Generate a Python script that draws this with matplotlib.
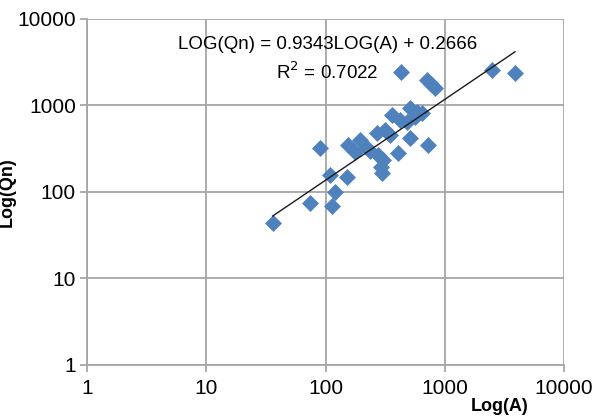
import numpy as np
import matplotlib
matplotlib.use('Agg')
from matplotlib import pyplot as plt
from matplotlib.ticker import FixedLocator, FixedFormatter, NullLocator

# data (A, Qn)
area = [36, 74, 90, 114, 109, 120, 151, 153, 177, 195, 220, 236, 269, 315, 347,
        277, 305, 296, 291, 408, 512, 728, 359, 421, 512, 582, 641, 480, 563,
        430, 706, 760, 829, 2475, 3883]
qn = [43.5, 75, 320, 68, 157, 101, 150, 349, 292, 398, 335, 300, 477, 521, 456,
      268, 234, 165, 194, 280, 418, 349, 777, 680, 929, 848, 813, 650, 743,
      2450, 1972, 1750, 1581, 2573, 2395]

slope = 0.9343
intercept = 0.2666
r2 = 0.7022

ticks = [1, 10, 100, 1000, 10000]
tick_labels = ['1', '10', '100', '1000', '10000']

plt.rcParams['font.family'] = ['Liberation Sans', 'DejaVu Sans']
grid_color = '#a6a6a6'

fig = plt.figure(figsize=(6, 4.2), dpi=100)
ax = fig.add_axes([0.145, 0.131, 0.795, 0.824])

ax.set_xscale('log')
ax.set_yscale('log')
ax.set_xlim(1, 10000)
ax.set_ylim(1, 10000)

ax.scatter(area, qn, marker='D', s=75, color='#4f81bd', zorder=3, linewidths=0)

# trendline over the range of the data
x_line = np.array([min(area), max(area)])
y_line = 10 ** (slope * np.log10(x_line) + intercept)
ax.plot(x_line, y_line, color='#1a1a1a', lw=1.0, zorder=4)

for axis in (ax.xaxis, ax.yaxis):
    axis.set_major_locator(FixedLocator(ticks))
    axis.set_major_formatter(FixedFormatter(tick_labels))
    axis.set_minor_locator(NullLocator())

ax.grid(True, color=grid_color, lw=1.3, zorder=0)
ax.set_axisbelow(True)
for side in ('top', 'right'):
    ax.spines[side].set_visible(False)
for side in ('left', 'bottom'):
    ax.spines[side].set_color(grid_color)
    ax.spines[side].set_linewidth(1.3)
ax.tick_params(axis='both', which='major', length=5, width=1.3, color=grid_color,
               labelsize=15, labelcolor='black')
ax.tick_params(axis='x', pad=5)
ax.tick_params(axis='y', pad=3)

ax.text(0.504, 0.925, 'LOG(Qn) = 0.9343LOG(A) + 0.2666', transform=ax.transAxes,
        ha='center', va='center', fontsize=13.5)
ax.text(0.504, 0.845, 'R$^2$ = %.4f' % r2, transform=ax.transAxes,
        ha='center', va='center', fontsize=13.5)

ax.set_ylabel('Log(Qn)', fontsize=13, fontweight='bold')
ax.yaxis.set_label_coords(-0.149, 0.5)
fig.text(0.832, 0.031, 'Log(A)', ha='center', va='center', fontsize=13, fontweight='bold')

fig.savefig('out.png', dpi=100)
